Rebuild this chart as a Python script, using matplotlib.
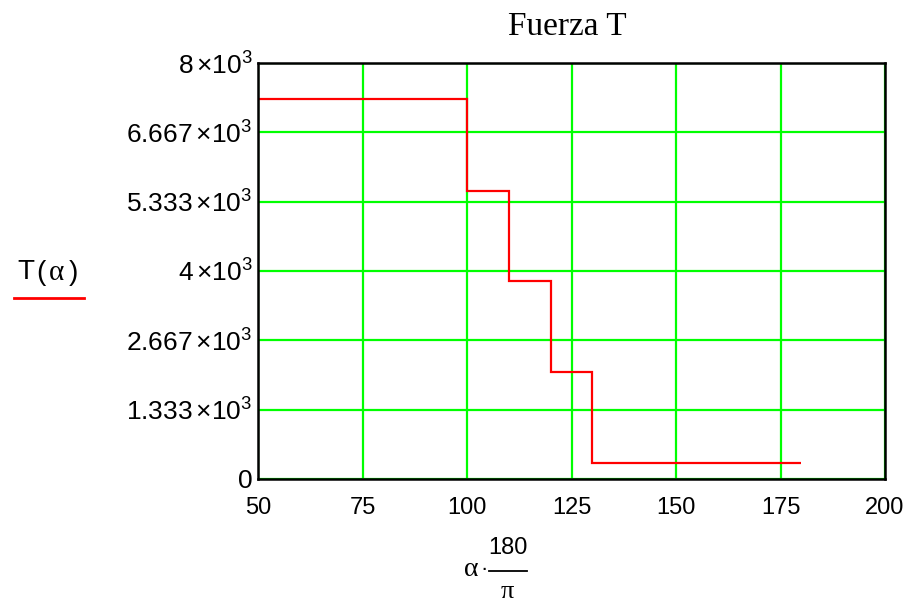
import matplotlib
matplotlib.use("Agg")
import matplotlib.pyplot as plt
from matplotlib.lines import Line2D
from matplotlib import font_manager

# step edges (degrees) and the force level on each step
edges = [50, 100, 110, 120, 130, 180]
fuerza = [7310, 5540, 3810, 2050, 310]

x_ticks = [50, 75, 100, 125, 150, 175, 200]
y_ticks = [0, 1333.33, 2666.67, 4000, 5333.33, 6666.67, 8000]
y_labels = ["0", "1.333", "2.667", "4", "5.333", "6.667", "8"]

# narrow sans if we have it, else plain Liberation Sans
names = set(f.name for f in font_manager.fontManager.ttflist)
narrow = "Liberation Sans Narrow" in names
xfam = "Liberation Sans Narrow" if narrow else "Liberation Sans"
xsize = 19 if narrow else 17

plt.rcParams['font.family'] = ['Liberation Sans', 'DejaVu Sans']
plt.rcParams['mathtext.fontset'] = 'custom'
plt.rcParams['mathtext.rm'] = 'Liberation Sans'
plt.rcParams['mathtext.it'] = 'Liberation Sans:italic'
plt.rcParams['mathtext.bf'] = 'Liberation Sans:bold'

W, H = 921, 604
fig = plt.figure(figsize=(W / 100, H / 100), dpi=100)
ax = fig.add_axes([258 / W, (H - 479) / H, 627 / W, 416 / H])

ax.stairs(fuerza, edges, color="#ff0000", lw=1.6, baseline=None)

ax.set_xlim(50, 200)
ax.set_ylim(0, 8000)
ax.set_xticks(x_ticks)
ax.set_xticklabels([str(v) for v in x_ticks], family=xfam, fontsize=xsize)
ax.set_yticks(y_ticks)
labs = []
for s in y_labels:
    if s == "0":
        labs.append("0")
    else:
        labs.append(r"$\mathregular{" + s + r"\,{\times}10^{3}}$")
ax.set_yticklabels(labs, fontsize=19)
ax.tick_params(axis="both", length=0)
ax.tick_params(axis="x", pad=13)
ax.tick_params(axis="y", pad=4)
ax.grid(True, color="#00ff00", lw=1.6)
ax.set_axisbelow(True)
for sp in ax.spines.values():
    sp.set_linewidth(1.8)
    sp.set_color("black")

def fx(px):
    return px / W

def fy(py):
    return 1 - py / H

# title
fig.text(fx(567), fy(27), "Fuerza T", ha="center", va="center",
         family="Liberation Serif", fontsize=24)

# y label "T(α)" with red legend line
fig.text(fx(26), fy(272), "T", ha="center", va="center", fontsize=20)
fig.text(fx(41), fy(273), "(", ha="center", va="center", fontsize=20)
fig.text(fx(56), fy(273), "α", ha="center", va="center",
         family="Liberation Serif", fontsize=21)
fig.text(fx(73), fy(273), ")", ha="center", va="center", fontsize=20)
fig.add_artist(Line2D([fx(14), fx(84)], [fy(298), fy(298)], color="#ff0000", lw=2))

# x label: alpha * 180 / pi
fig.text(fx(471), fy(570), "α", ha="center", va="center",
         family="Liberation Serif", fontsize=20)
fig.text(fx(484), fy(569), "·", ha="center", va="center", fontsize=16)
fig.text(fx(508), fy(548), "180", ha="center", va="center", family=xfam, fontsize=xsize)
fig.add_artist(Line2D([fx(489), fx(527)], [fy(571), fy(571)], color="black", lw=1.3))
fig.text(fx(507), fy(592), "π", ha="center", va="center",
         family="Liberation Serif", fontsize=19)

fig.savefig("out.png", dpi=100)
